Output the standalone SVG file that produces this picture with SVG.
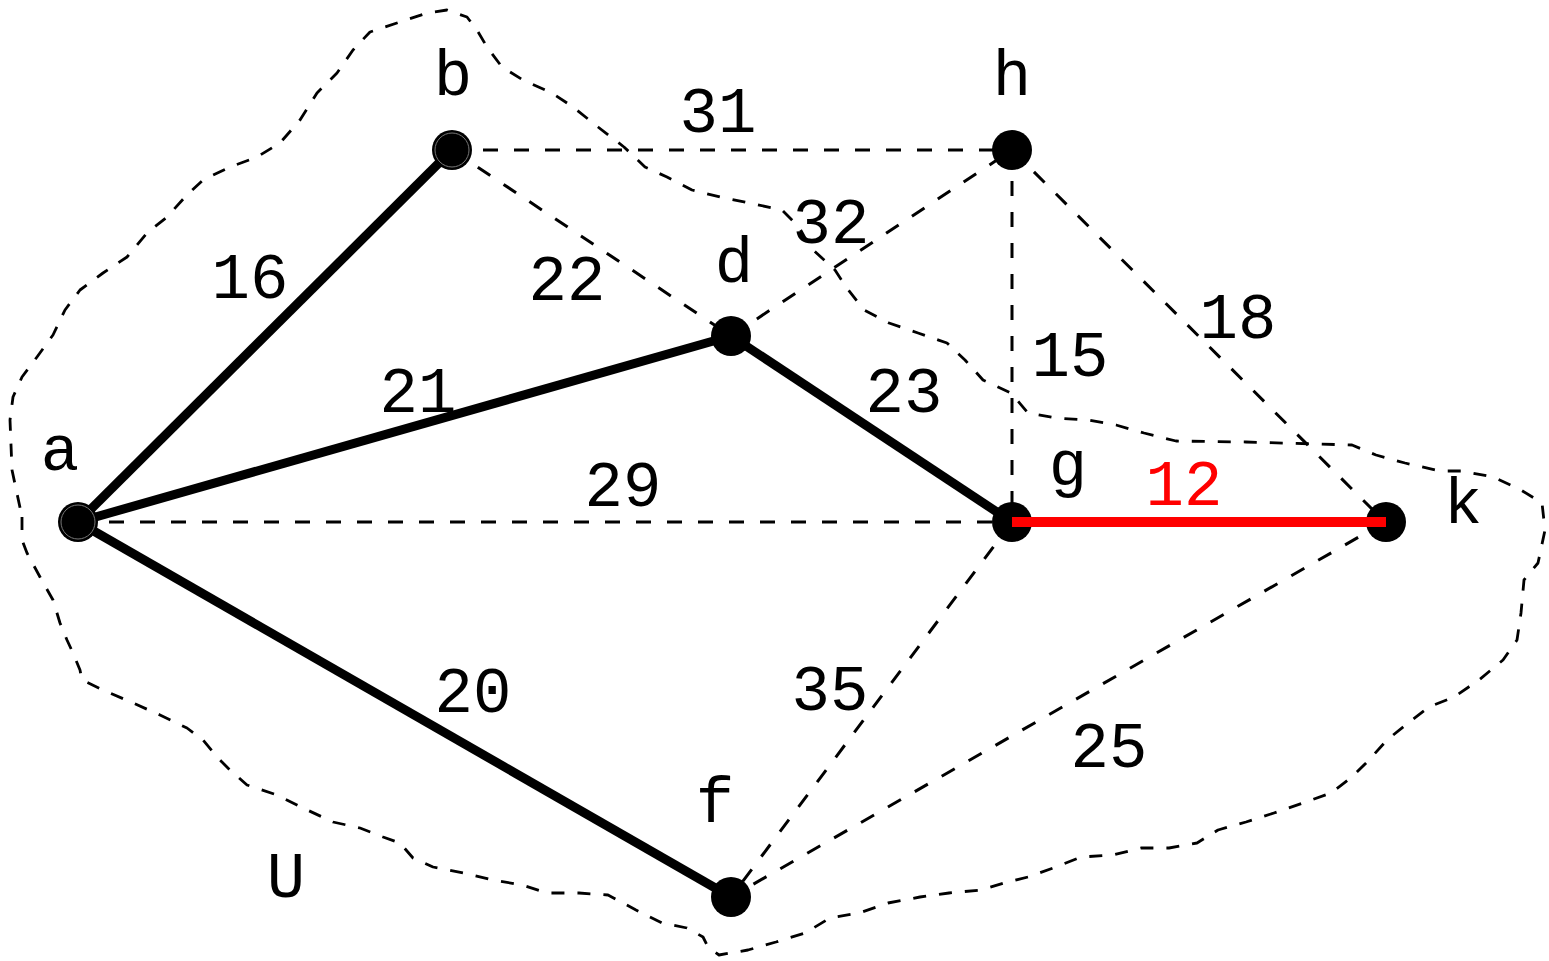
<svg xmlns="http://www.w3.org/2000/svg" width="1549" height="961" viewBox="0 0 1549 961">
<style>
.blob{fill:none;stroke:#000;stroke-width:2.8;stroke-dasharray:13 13;stroke-linejoin:round}
.dash{stroke:#000;stroke-width:3;stroke-dasharray:15 16;fill:none}
.thick{stroke:#000;stroke-width:9;fill:none}
.red{stroke:#ff0000;stroke-width:10;fill:none}
.node{fill:#000}
.ring{fill:none;stroke:#777;stroke-width:1}
text{font-family:"Liberation Mono","Courier New",monospace;font-size:64px;fill:#000;text-anchor:middle}
.rt{fill:#ff0000}
</style>
<path class="blob" d="M22,517 L22,540 L27,553 L40,577 L53,600 L60,623 L67,640 L73,653 L80,670 L82,680 L103,690 L133,703 L160,715 L187,728 L203,740 L217,757 L230,770 L247,785 L277,795 L303,808 L333,822 L360,828 L383,837 L400,843 L413,858 L433,867 L463,873 L493,880 L522,885 L547,893 L579,893 L608,895 L636,910 L662,923 L687,928 L703,937 L708,947 L719,955 L748,950 L776,942 L805,933 L830,918 L859,913 L888,903 L920,897 L949,893 L981,890 L1004,883 L1028,877 L1056,867 L1081,857 L1113,855 L1141,848 L1169,848 L1197,843 L1218,830 L1246,822 L1274,813 L1303,803 L1331,793 L1352,777 L1369,760 L1387,740 L1408,723 L1429,707 L1454,697 L1479,680 L1503,660 L1517,640 L1521,613 L1524,580 L1538,563 L1545,530 L1542,503 L1521,490 L1493,477 L1461,471 L1440,471 L1405,463 L1376,455 L1352,445 L1317,444 L1246,442 L1176,441 L1144,433 L1116,425 L1088,420 L1056,418 L1028,413 L1011,393 L983,380 L965,360 L947,343 L918,333 L889,323 L864,310 L846,287 L835,270 L810,247 L799,227 L782,210 L749,203 L720,197 L692,190 L667,177 L645,167 L624,147 L598,127 L573,107 L552,93 L523,80 L502,67 L487,47 L477,30 L467,17 L447,10 L427,13 L400,22 L370,32 L353,50 L337,73 L317,93 L300,120 L280,143 L257,157 L230,167 L203,180 L185,197 L167,217 L147,233 L127,257 L103,273 L80,290 L65,310 L53,335 L37,357 L22,377 L13,397 L10,420 L12,470 Z"/>
<g id="connectors">
<line class="dash" x1="452" y1="150" x2="1012" y2="150"/>
<line class="dash" x1="452" y1="150" x2="731" y2="336"/>
<line class="dash" x1="731" y1="336" x2="1012" y2="150"/>
<line class="dash" x1="1012" y1="150" x2="1012" y2="522"/>
<line class="dash" x1="1012" y1="150" x2="1385" y2="522"/>
<line class="dash" x1="78" y1="522" x2="1012" y2="522"/>
<line class="dash" x1="1012" y1="522" x2="731" y2="897"/>
<line class="dash" x1="1385" y1="522" x2="731" y2="897"/>
<line class="thick" x1="78" y1="522" x2="452" y2="150"/>
<line class="thick" x1="78" y1="522" x2="731" y2="336"/>
<line class="thick" x1="731" y1="336" x2="1012" y2="522"/>
<line class="thick" x1="78" y1="522" x2="731" y2="897"/>
</g>
<g id="node-a"><circle class="node" cx="78" cy="522" r="20"/><circle class="ring" cx="78" cy="522" r="17"/><text x="60" y="470">a</text></g>
<g id="node-b"><circle class="node" cx="452" cy="150" r="20"/><circle class="ring" cx="452" cy="150" r="17"/><text x="453" y="95">b</text></g>
<g id="node-h"><circle class="node" cx="1012" cy="150" r="20"/><text x="1012" y="95">h</text></g>
<g id="node-d"><circle class="node" cx="731" cy="336" r="20"/><text x="734" y="282">d</text></g>
<g id="node-g"><circle class="node" cx="1012" cy="522" r="20"/><text x="1068" y="485">g</text></g>
<g id="node-k"><circle class="node" cx="1386" cy="522" r="20"/><text x="1463" y="523">k</text></g>
<g id="node-f"><circle class="node" cx="731" cy="897" r="20"/><text x="715" y="822">f</text></g>
<g id="edge-red"><line class="red" x1="1012" y1="522" x2="1386" y2="522"/></g>
<g id="labels">
<text x="250" y="298">16</text>
<text x="418" y="412">21</text>
<text x="567" y="300">22</text>
<text x="718" y="132">31</text>
<text x="831" y="243">32</text>
<text x="904" y="412">23</text>
<text x="1070" y="376">15</text>
<text x="1238" y="338">18</text>
<text x="623" y="506">29</text>
<text class="rt" x="1184" y="505">12</text>
<text x="473" y="712">20</text>
<text x="830" y="710">35</text>
<text x="1109" y="767">25</text>
<text x="286" y="897">U</text>
</g>
</svg>
